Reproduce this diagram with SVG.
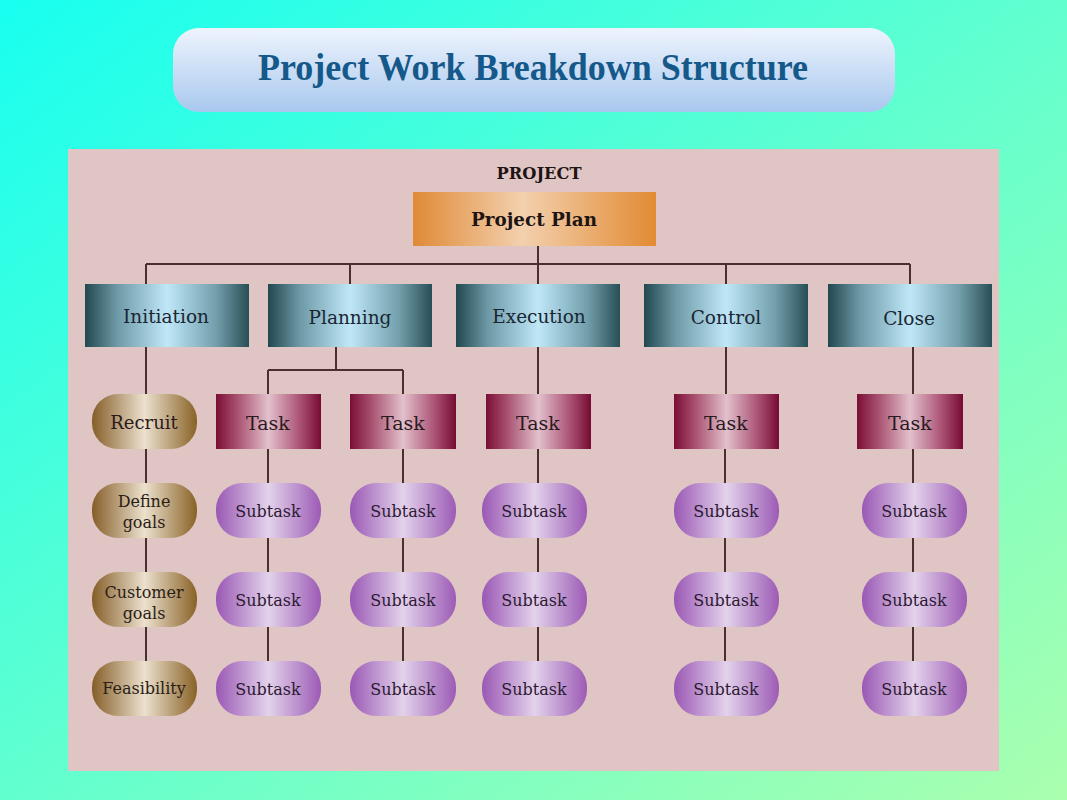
<svg xmlns="http://www.w3.org/2000/svg" width="1067" height="800" viewBox="0 0 1067 800">
<defs>
<linearGradient id="bg" x1="0" y1="0" x2="1" y2="1"><stop offset="0" stop-color="#18fff0"/><stop offset="1" stop-color="#aaffae"/></linearGradient>
<linearGradient id="titleG" x1="0" y1="0" x2="0" y2="1"><stop offset="0" stop-color="#eef4fd"/><stop offset="1" stop-color="#a8c8ee"/></linearGradient>
<linearGradient id="orange" x1="0" y1="0" x2="1" y2="0"><stop offset="0" stop-color="#df8a36"/><stop offset="0.45" stop-color="#f3d0ae"/><stop offset="1" stop-color="#e28b33"/></linearGradient>
<linearGradient id="teal" x1="0" y1="0" x2="1" y2="0"><stop offset="0" stop-color="#224850"/><stop offset="0.2" stop-color="#6f9ba8"/><stop offset="0.5" stop-color="#bfe7f8"/><stop offset="0.8" stop-color="#729fab"/><stop offset="1" stop-color="#284e56"/></linearGradient>
<linearGradient id="task" x1="0" y1="0" x2="1" y2="0"><stop offset="0" stop-color="#7b0e36"/><stop offset="0.2" stop-color="#a8506f"/><stop offset="0.5" stop-color="#e2c0cc"/><stop offset="0.8" stop-color="#ab5274"/><stop offset="1" stop-color="#760b32"/></linearGradient>
<linearGradient id="sub" x1="0" y1="0" x2="1" y2="0"><stop offset="0" stop-color="#9a58b4"/><stop offset="0.5" stop-color="#e3d2eb"/><stop offset="1" stop-color="#9c5bb5"/></linearGradient>
<linearGradient id="gold" x1="0" y1="0" x2="1" y2="0"><stop offset="0" stop-color="#855e28"/><stop offset="0.5" stop-color="#ece1ce"/><stop offset="1" stop-color="#896226"/></linearGradient>
<style>
text{font-family:"DejaVu Serif","Liberation Serif",serif;text-anchor:middle;}
.l1{fill:url(#teal);}
.task{fill:url(#task);}
.sub{fill:url(#sub);}
.gold{fill:url(#gold);}
.t1{font-size:18.5px;fill:#1a2733;}
.tt{font-size:19px;fill:#2a1a1e;}
.tr{font-size:18px;fill:#2a1a1e;}
.ts{font-size:16px;fill:#2c1a33;}
.tg{font-size:16px;fill:#2a2016;}
#connectors path{fill:none;stroke:#4a2f2f;stroke-width:2;}
</style>
</defs>
<rect width="1067" height="800" fill="url(#bg)"/>
<g id="title">
<rect x="173" y="28" width="722" height="84" rx="26" fill="url(#titleG)"/>
<text x="533" y="80" font-weight="bold" font-size="38" fill="#15588a" textLength="550" lengthAdjust="spacingAndGlyphs" style="font-family:'Liberation Serif',serif">Project Work Breakdown Structure</text>
</g>
<rect id="panel" x="68" y="149" width="931" height="622" fill="#dfc5c4"/>
<g id="connectors">
<path d="M538 246V264M146 264H910M146 264V284M350 264V284M538 264V284M726 264V284M910 264V284"/>
<path d="M146 347V394M146 449V483M146 537V572M146 627V661"/>
<path d="M336 347V370M268 370H403M268 370V394M403 370V394"/>
<path d="M268 449V483M268 537V572M268 627V661M403 449V483M403 537V572M403 627V661"/>
<path d="M538 347V394M538 449V483M538 537V572M538 627V661"/>
<path d="M726 347V394M725 449V483M725 537V572M725 627V661"/>
<path d="M913 347V394M913 449V483M913 537V572M913 627V661"/>
</g>
<g id="project-label"><text x="539" y="179" font-weight="bold" font-size="17" fill="#1e1414" textLength="85" lengthAdjust="spacingAndGlyphs">PROJECT</text></g>
<g id="project-plan"><rect x="413" y="192" width="243" height="54" fill="url(#orange)"/><text x="534" y="226" font-weight="bold" font-size="19" fill="#1e1414" textLength="126" lengthAdjust="spacingAndGlyphs">Project Plan</text></g>
<g id="initiation"><rect class="l1" x="85" y="284" width="164" height="63"/><text class="t1" x="166" y="323">Initiation</text></g>
<g id="planning"><rect class="l1" x="268" y="284" width="164" height="63"/><text class="t1" x="350" y="324">Planning</text></g>
<g id="execution"><rect class="l1" x="456" y="284" width="164" height="63"/><text class="t1" x="539" y="323">Execution</text></g>
<g id="control"><rect class="l1" x="644" y="284" width="164" height="63"/><text class="t1" x="726" y="324">Control</text></g>
<g id="close"><rect class="l1" x="828" y="284" width="164" height="63"/><text class="t1" x="909" y="325">Close</text></g>
<g id="recruit"><rect class="gold" x="92" y="394" width="105" height="55" rx="26"/><text class="tr" x="144" y="429">Recruit</text></g>
<g id="define-goals"><rect class="gold" x="92" y="483" width="105" height="55" rx="26"/><text class="tg" x="144" y="507">Define</text><text class="tg" x="144" y="528">goals</text></g>
<g id="customer-goals"><rect class="gold" x="92" y="572" width="105" height="55" rx="26"/><text class="tg" x="144" y="598">Customer</text><text class="tg" x="144" y="619">goals</text></g>
<g id="feasibility"><rect class="gold" x="92" y="661" width="105" height="55" rx="26"/><text class="tg" x="144" y="694">Feasibility</text></g>
<g id="task-planning-1"><rect class="task" x="216" y="394" width="105" height="55"/><text class="tt" x="268" y="430">Task</text></g>
<g id="task-planning-2"><rect class="task" x="350" y="394" width="106" height="55"/><text class="tt" x="403" y="430">Task</text></g>
<g id="task-execution"><rect class="task" x="486" y="394" width="105" height="55"/><text class="tt" x="538" y="430">Task</text></g>
<g id="task-control"><rect class="task" x="674" y="394" width="105" height="55"/><text class="tt" x="726" y="430">Task</text></g>
<g id="task-close"><rect class="task" x="857" y="394" width="106" height="55"/><text class="tt" x="910" y="430">Task</text></g>
<g id="sub-b1"><rect class="sub" x="216" y="483" width="105" height="55" rx="26"/><text class="ts" x="268" y="517">Subtask</text></g>
<g id="sub-b2"><rect class="sub" x="216" y="572" width="105" height="55" rx="26"/><text class="ts" x="268" y="606">Subtask</text></g>
<g id="sub-b3"><rect class="sub" x="216" y="661" width="105" height="55" rx="26"/><text class="ts" x="268" y="695">Subtask</text></g>
<g id="sub-c1"><rect class="sub" x="350" y="483" width="106" height="55" rx="26"/><text class="ts" x="403" y="517">Subtask</text></g>
<g id="sub-c2"><rect class="sub" x="350" y="572" width="106" height="55" rx="26"/><text class="ts" x="403" y="606">Subtask</text></g>
<g id="sub-c3"><rect class="sub" x="350" y="661" width="106" height="55" rx="26"/><text class="ts" x="403" y="695">Subtask</text></g>
<g id="sub-d1"><rect class="sub" x="482" y="483" width="105" height="55" rx="26"/><text class="ts" x="534" y="517">Subtask</text></g>
<g id="sub-d2"><rect class="sub" x="482" y="572" width="105" height="55" rx="26"/><text class="ts" x="534" y="606">Subtask</text></g>
<g id="sub-d3"><rect class="sub" x="482" y="661" width="105" height="55" rx="26"/><text class="ts" x="534" y="695">Subtask</text></g>
<g id="sub-e1"><rect class="sub" x="674" y="483" width="105" height="55" rx="26"/><text class="ts" x="726" y="517">Subtask</text></g>
<g id="sub-e2"><rect class="sub" x="674" y="572" width="105" height="55" rx="26"/><text class="ts" x="726" y="606">Subtask</text></g>
<g id="sub-e3"><rect class="sub" x="674" y="661" width="105" height="55" rx="26"/><text class="ts" x="726" y="695">Subtask</text></g>
<g id="sub-f1"><rect class="sub" x="862" y="483" width="105" height="55" rx="26"/><text class="ts" x="914" y="517">Subtask</text></g>
<g id="sub-f2"><rect class="sub" x="862" y="572" width="105" height="55" rx="26"/><text class="ts" x="914" y="606">Subtask</text></g>
<g id="sub-f3"><rect class="sub" x="862" y="661" width="105" height="55" rx="26"/><text class="ts" x="914" y="695">Subtask</text></g>
</svg>
